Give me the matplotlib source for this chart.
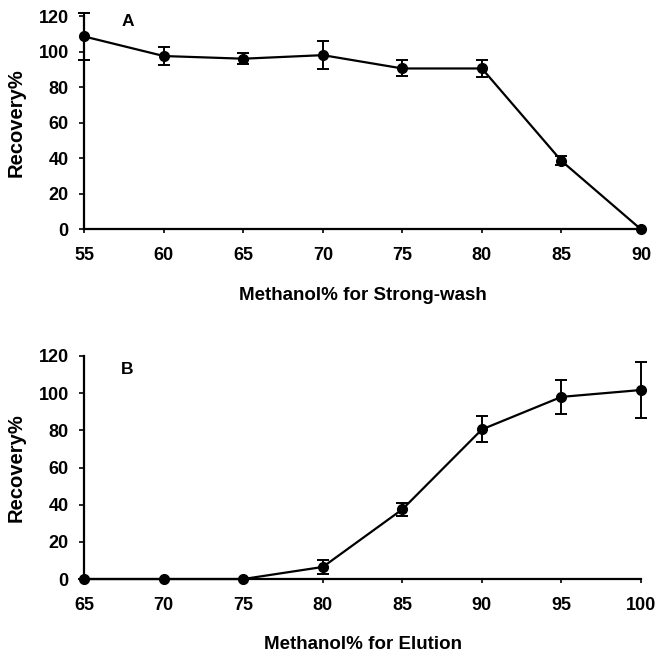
import matplotlib
matplotlib.use("Agg")
import matplotlib.pyplot as plt

plt.rcParams['font.family'] = ['Liberation Sans', 'DejaVu Sans']
plt.rcParams['font.weight'] = 'bold'

# Panel A
xa = [55, 60, 65, 70, 75, 80, 85, 90]
ya = [108.5, 97.5, 96, 98, 90.5, 90.5, 38.5, 0]
ea = [13, 5, 3, 8, 4.5, 5, 2.5, 0]
# Panel B
xb = [65, 70, 75, 80, 85, 90, 95, 100]
yb = [0, 0, 0, 6.5, 37.5, 80.5, 98, 101.7]
eb = [0, 0, 0, 4, 3.5, 7, 9, 15]
yticks = [0, 20, 40, 60, 80, 100, 120]

fig = plt.figure(figsize=(6.63, 6.55), dpi=100)
axA = fig.add_axes([0.1271, 0.6499, 0.8397, 0.3256])
axB = fig.add_axes([0.1271, 0.1160, 0.8397, 0.3405])

def style(ax, x, y, e, xlabel, letter, lx, ly):
    ax.errorbar(x, y, yerr=e, color='black', marker='o', markersize=7,
                linewidth=1.6, capsize=4.3, elinewidth=1.4, capthick=1.4,
                clip_on=False, zorder=3)
    ax.set_xlim(x[0], x[-1])
    ax.set_ylim(0, 120)
    ax.set_xticks(x)
    ax.set_yticks(yticks)
    for s in ['top', 'right']:
        ax.spines[s].set_visible(False)
    for s in ['left', 'bottom']:
        ax.spines[s].set_linewidth(1.6)
    ax.tick_params(axis='x', labelsize=13, width=1.2, length=3, direction='out', pad=10)
    ax.tick_params(axis='y', labelsize=13, width=1.2, length=3.6, direction='out', pad=7.5)
    for lab in ax.get_xticklabels() + ax.get_yticklabels():
        lab.set_fontweight('bold')
    ax.set_xlabel(xlabel, fontsize=13.5, fontweight='bold', labelpad=16)
    ax.set_ylabel('Recovery%', fontsize=14.5, fontweight='bold', labelpad=9)
    ax.text(lx, ly, letter, fontsize=12.5, fontweight='bold', ha='center', va='center')

style(axA, xa, ya, ea, 'Methanol% for Strong-wash', 'A', 57.73, 117.2)
style(axB, xb, yb, eb, 'Methanol% for Elution', 'B', 67.7, 112.9)

fig.savefig('out.png', dpi=100)
